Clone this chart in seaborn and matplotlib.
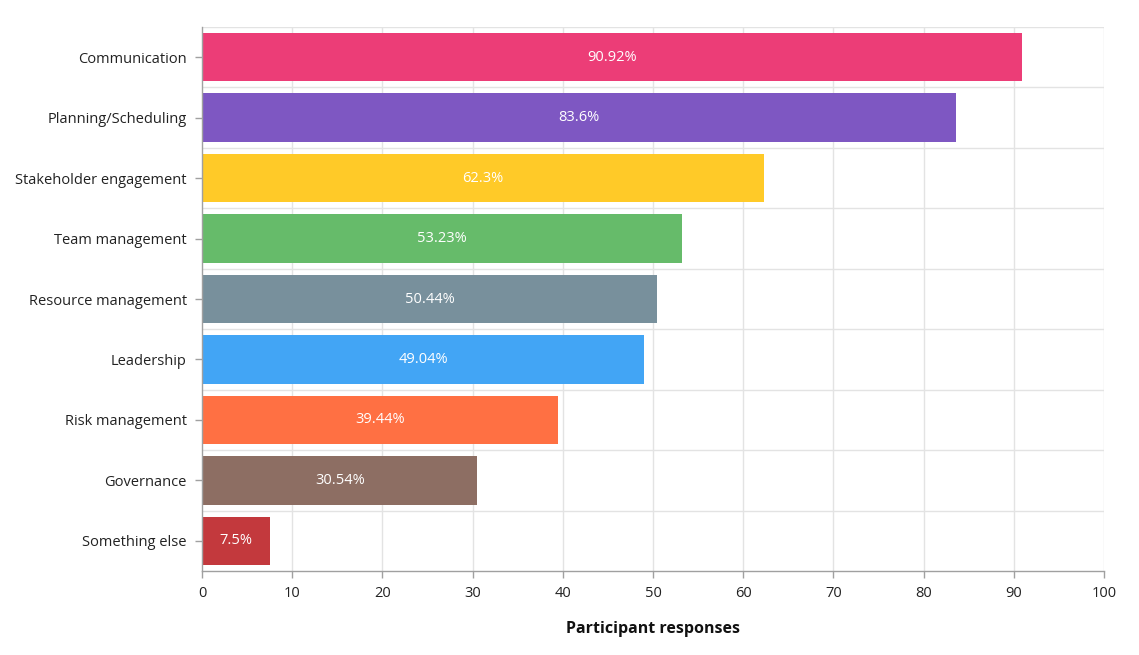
import matplotlib
matplotlib.use('Agg')
import matplotlib.pyplot as plt
import seaborn as sns
import pandas as pd

# data
categories = ['Communication', 'Planning/Scheduling', 'Stakeholder engagement',
              'Team management', 'Resource management', 'Leadership',
              'Risk management', 'Governance', 'Something else']
values = [90.92, 83.6, 62.3, 53.23, 50.44, 49.04, 39.44, 30.54, 7.5]
value_labels = ['90.92%', '83.6%', '62.3%', '53.23%', '50.44%', '49.04%',
                '39.44%', '30.54%', '7.5%']
colors = ['#EC3D77', '#7E57C2', '#FFCA28', '#66BB6A', '#78909C',
          '#42A5F5', '#FF7043', '#8D6E63', '#C3393D']

df = pd.DataFrame({'category': categories, 'value': values})

sns.set_theme(style='white')
plt.rcParams['font.family'] = ['Open Sans', 'DejaVu Sans']

fig = plt.figure(figsize=(11.39, 6.55), dpi=100)
ax = fig.add_axes([0.1773, 0.1282, 0.7920, 0.8306])

sns.barplot(data=df, x='value', y='category', hue='category', palette=colors,
            orient='h', width=0.8, legend=False, saturation=1, linewidth=0,
            ax=ax)

for cont, lab in zip(ax.containers, value_labels):
    ax.bar_label(cont, labels=[lab], label_type='center', color='white', fontsize=10.5)

ax.set_xlim(0, 100)
ax.set_ylim(len(categories) - 0.5, -0.5)
ax.set_xticks(range(0, 101, 10))

# grid: vertical at ticks, horizontal between categories
ax.set_axisbelow(True)
for x in range(10, 101, 10):
    ax.axvline(x, color='#e3e3e3', lw=1, zorder=0)
for k in range(len(categories)):
    ax.axhline(k - 0.5, color='#e3e3e3', lw=1, zorder=0)

for s in ['top', 'right']:
    ax.spines[s].set_visible(False)
for s in ['left', 'bottom']:
    ax.spines[s].set_color('#a0a0a0')
    ax.spines[s].set_linewidth(1)

ax.tick_params(axis='both', which='both', length=5, width=1, color='#a0a0a0',
               labelsize=10.5, labelcolor='#222222', pad=6)
ax.tick_params(axis='x', bottom=True)
ax.tick_params(axis='y', left=True)

ax.set_ylabel('')
ax.set_xlabel('Participant responses', fontsize=11.5, fontweight='bold',
              color='#111111', labelpad=14)

fig.savefig('out.png', dpi=100)
